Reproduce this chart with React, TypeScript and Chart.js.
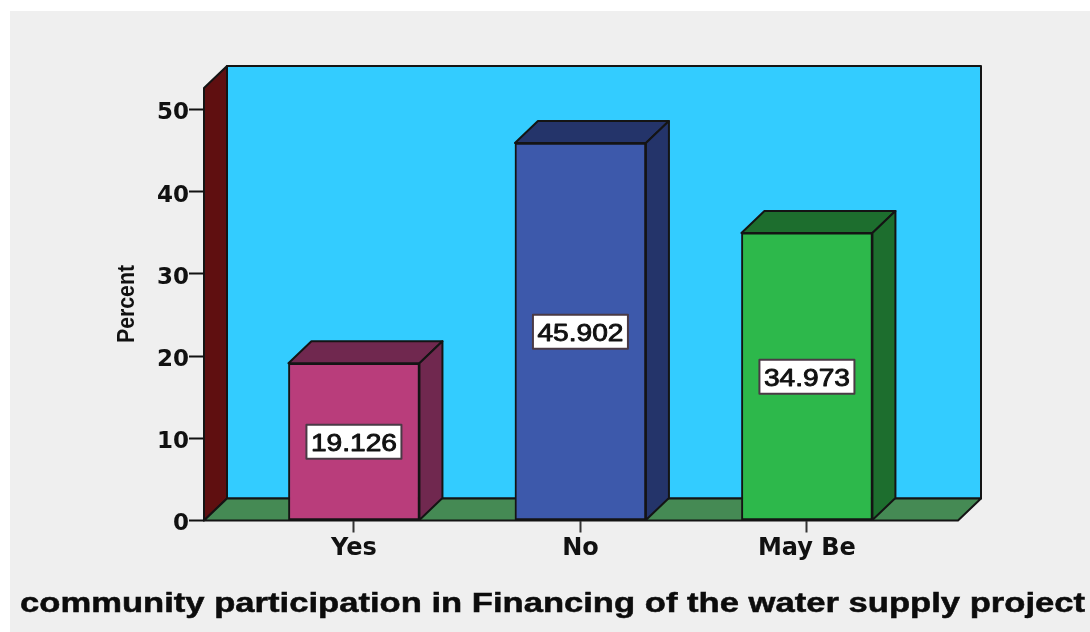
import React, { useEffect, useRef } from "react";
import { Chart, registerables } from "chart.js";

Chart.register(...registerables);

const categories = ["Yes", "No", "May Be"];
const percentValues = [19.126, 45.902, 34.973];
const xPositions = [0, 1, 2];
const frontColors = ["#B93D7B", "#3D59AB", "#2DB84B"];
const sideColors = ["#70284F", "#24346A", "#1D6E2E"];
const chartTitle = "community participation in Financing of the water supply project";
const yTitle = "Percent";

const DX = 23;
const DY = 22;
const LINE = "#141414";

function poly(ctx: CanvasRenderingContext2D, pts: number[][], fill: string) {
  ctx.beginPath();
  pts.forEach((p, i) => (i ? ctx.lineTo(p[0], p[1]) : ctx.moveTo(p[0], p[1])));
  ctx.closePath();
  ctx.fillStyle = fill;
  ctx.fill();
  ctx.lineWidth = 2;
  ctx.lineJoin = "round";
  ctx.strokeStyle = LINE;
  ctx.stroke();
}

const scene = {
  id: "scene",
  beforeDraw(chart: any) {
    const { ctx, width, height, chartArea: a } = chart;
    ctx.save();
    ctx.fillStyle = "#ffffff";
    ctx.fillRect(0, 0, width, height);
    ctx.fillStyle = "#EFEFEF";
    ctx.fillRect(10, 11, width - 10, height - 11);
    poly(ctx, [[a.left + DX, a.top - DY], [a.right + DX, a.top - DY], [a.right + DX, a.bottom - DY], [a.left + DX, a.bottom - DY]], "#33CCFF");
    poly(ctx, [[a.left, a.top], [a.left + DX, a.top - DY], [a.left + DX, a.bottom - DY], [a.left, a.bottom]], "#5F0F10");
    poly(ctx, [[a.left, a.bottom], [a.left + DX, a.bottom - DY], [a.right + DX, a.bottom - DY], [a.right, a.bottom]], "#458A54");
    ctx.restore();
  },
  afterDatasetsDraw(chart: any) {
    const { ctx } = chart;
    const meta = chart.getDatasetMeta(0);
    const yScale = chart.scales.y;
    ctx.save();
    meta.data.forEach((el: any, i: number) => {
      const l = el.x - el.width / 2;
      const r = el.x + el.width / 2;
      poly(ctx, [[l, el.y], [l + DX, el.y - DY], [r + DX, el.y - DY], [r, el.y]], sideColors[i]);
      poly(ctx, [[r, el.y], [r + DX, el.y - DY], [r + DX, el.base - DY], [r, el.base]], sideColors[i]);
    });
    meta.data.forEach((el: any, i: number) => {
      const text = percentValues[i].toFixed(3);
      const cy = yScale.getPixelForValue(percentValues[i] / 2);
      const w = 95;
      ctx.fillStyle = "#ffffff";
      ctx.fillRect(el.x - w / 2, cy - 17, w, 34);
      ctx.lineWidth = 2;
      ctx.strokeStyle = "#4a3a45";
      ctx.strokeRect(el.x - w / 2, cy - 17, w, 34);
      ctx.save();
      ctx.font = "24px 'Liberation Sans'";
      const natural = ctx.measureText(text).width;
      ctx.translate(el.x, cy + 9);
      ctx.scale(86 / natural, 1);
      ctx.fillStyle = "#111111";
      ctx.strokeStyle = "#111111";
      ctx.lineWidth = 0.9;
      ctx.textAlign = "center";
      ctx.textBaseline = "alphabetic";
      ctx.fillText(text, 0, 0);
      ctx.strokeText(text, 0, 0);
      ctx.restore();
    });
    ctx.restore();
  },
  afterDraw(chart: any) {
    const { ctx } = chart;
    ctx.save();
    ctx.font = "bold 27px 'Liberation Sans'";
    const natural = ctx.measureText(chartTitle).width;
    ctx.translate(20, 612);
    ctx.scale(1065 / natural, 1);
    ctx.fillStyle = "#0c0c0c";
    ctx.strokeStyle = "#0c0c0c";
    ctx.lineWidth = 0.5;
    ctx.textAlign = "left";
    ctx.textBaseline = "alphabetic";
    ctx.fillText(chartTitle, 0, 0);
    ctx.strokeText(chartTitle, 0, 0);
    ctx.restore();

    ctx.save();
    ctx.font = "bold 23px 'Liberation Sans'";
    const nat = ctx.measureText(yTitle).width;
    ctx.translate(134, 304);
    ctx.rotate(-Math.PI / 2);
    ctx.scale(78 / nat, 1);
    ctx.fillStyle = "#111111";
    ctx.textAlign = "center";
    ctx.textBaseline = "alphabetic";
    ctx.fillText(yTitle, 0, 0);
    ctx.restore();
  },
};

export default function App() {
  const ref = useRef<HTMLCanvasElement>(null);
  useEffect(() => {
    const chart = new Chart(ref.current as HTMLCanvasElement, {
      type: "bar",
      data: {
        datasets: [
          {
            label: "Percent",
            data: xPositions.map((x, i) => ({ x, y: percentValues[i] })),
            backgroundColor: frontColors,
            borderColor: LINE,
            borderWidth: 2,
            borderSkipped: false,
            barThickness: 131,
          },
        ],
      },
      options: {
        responsive: false,
        animation: false,
        layout: { padding: { top: 88, right: 132, left: 0, bottom: 0 } },
        plugins: { legend: { display: false }, tooltip: { enabled: false } },
        scales: {
          x: {
            type: "linear",
            offset: false,
            min: -0.662,
            max: 2.667,
            afterFit: (s: any) => {
              s.height = 111.5;
            },
            border: { display: false },
            grid: { offset: false, drawOnChartArea: false, drawTicks: true, tickLength: 12, tickColor: "#333333", tickWidth: 2 },
            ticks: {
              stepSize: 1,
              includeBounds: false,
              autoSkip: false,
              maxRotation: 0,
              padding: 2,
              color: "#111111",
              font: { family: "'DejaVu Sans'", weight: "bold", size: 24 },
              callback: (v: any) => categories[v] ?? "",
            },
          },
          y: {
            min: 0,
            max: 52.6,
            afterFit: (s: any) => {
              s.width = 204;
            },
            border: { display: false },
            grid: { drawOnChartArea: false, drawTicks: true, tickLength: 15, tickColor: "#111111", tickWidth: 2 },
            ticks: {
              stepSize: 10,
              includeBounds: false,
              padding: 0,
              labelOffset: 4,
              color: "#111111",
              font: { family: "'DejaVu Sans'", weight: "bold", size: 23 },
            },
          },
        },
      },
      plugins: [scene],
    } as any);
    return () => chart.destroy();
  }, []);
  return (
    <div style={{ position: "fixed", left: 0, top: 0 }}>
      <canvas ref={ref} width={1090} height={632} style={{ display: "block" }} />
    </div>
  );
}
